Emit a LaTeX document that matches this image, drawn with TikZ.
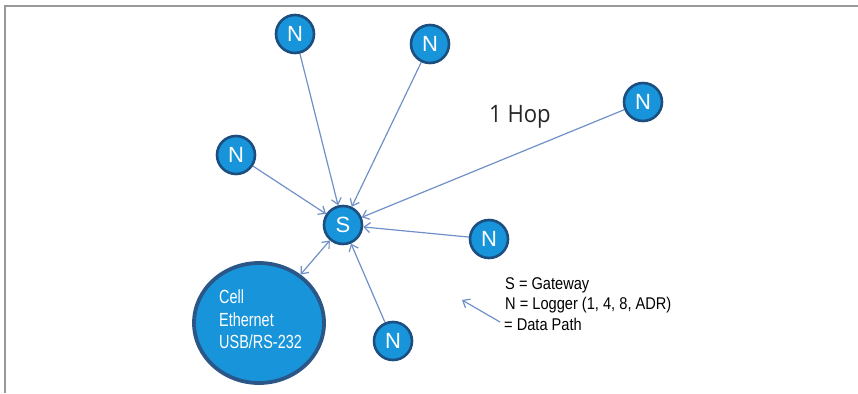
\documentclass[tikz,border=0pt]{standalone}
\usepackage{fontspec}
\setmainfont{Liberation Sans}
\newfontfamily\condfont[FakeStretch=0.86]{Liberation Sans}
\newfontfamily\narrowfont[FakeStretch=0.76]{Liberation Sans}
\newfontfamily\hopfont[FakeStretch=0.92]{Open Sans}
\usetikzlibrary{arrows.meta,shapes.geometric}
\definecolor{nodefill}{RGB}{24,148,218}
\definecolor{nodeedge}{RGB}{28,78,128}
\definecolor{bigedge}{RGB}{42,86,136}
\definecolor{pathcol}{RGB}{112,144,200}
\definecolor{framecol}{RGB}{153,153,153}
\tikzset{
  netnode/.style={circle, fill=nodefill, draw=nodeedge, line width=2.6pt,
    minimum size=38pt, inner sep=0pt, text=white,
    font=\fontsize{22}{22}\selectfont},
  hub/.style={ellipse, fill=nodefill, draw=bigedge, line width=3.8pt,
    minimum width=130pt, minimum height=120pt, inner sep=0pt},
  datapath/.style={draw=pathcol, line width=1.2pt,
    -{Straight Barb[length=6pt,width=10pt,line width=1.2pt]}},
  duplex/.style={draw=pathcol, line width=1.2pt,
    {Straight Barb[length=6pt,width=10pt,line width=1.2pt]}-{Straight Barb[length=6pt,width=10pt,line width=1.2pt]}},
  legendtxt/.style={anchor=base west, inner sep=0pt, text=black,
    font=\condfont\fontsize{17}{17}\selectfont},
  hubtxt/.style={anchor=base west, inner sep=0pt, text=white,
    font=\narrowfont\fontsize{19}{19}\selectfont}
}
\begin{document}
\begin{tikzpicture}[x=1pt, y=-1pt]
\useasboundingbox (0,0) rectangle (858,393);

% frame on the top and left edges
\draw[framecol, line width=2.5pt] (858,6) -- (5,6) -- (5,393);

% gateway and loggers
\node[netnode] (S) at (343,225) {S};
\node[netnode] (n1) at (295,34) {N};
\node[netnode] (n2) at (430,44) {N};
\node[netnode] (n3) at (643,102) {N};
\node[netnode] (n4) at (236,155) {N};
\node[netnode] (n5) at (489,239) {N};
\node[netnode] (n6) at (393,341) {N};

% uplink interfaces
\node[hub] (up) at (259,323) {};
\node[hubtxt] (t1) at (219,303) {Cell};
\node[hubtxt] (t2) at (219,326) {Ethernet};
\node[hubtxt] (t3) at (219,348) {USB/RS-232};

% one-hop data paths into the gateway
\foreach \n in {n1,n2,n3,n4,n5,n6}
  \draw[datapath] (\n) -- (S);
\draw[duplex] (S) -- (up);

\node[anchor=base west, inner sep=0pt, text=black!85,
  font=\hopfont\fontsize{24}{24}\selectfont] (hop) at (489,122) {1 Hop};

% legend
\coordinate (la) at (500,322);
\coordinate (lb) at (462,300);
\draw[datapath] (la) -- (lb);
\node[legendtxt] (l1) at (505,289) {S = Gateway};
\node[legendtxt] (l2) at (505,309) {N = Logger (1, 4, 8, ADR)};
\node[legendtxt] (l3) at (504,330) {= Data Path};
\end{tikzpicture}
\end{document}
